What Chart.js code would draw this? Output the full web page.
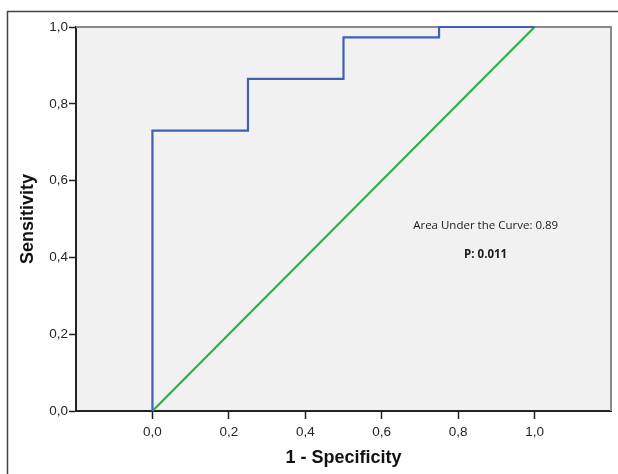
<!DOCTYPE html>
<html><head><meta charset="utf-8">
<script src="https://cdn.jsdelivr.net/npm/chart.js@4/dist/chart.umd.min.js"></script>
<style>html,body{margin:0;padding:0;background:#fff}#wrap{width:618px;height:474px;position:relative}</style>
</head><body><div id="wrap"><canvas id="c" width="618" height="474"></canvas></div>
<script>
const rocX = [0, 0, 0.25, 0.25, 0.5, 0.5, 0.75, 0.75, 1];
const rocY = [0, 0.73, 0.73, 0.865, 0.865, 0.973, 0.973, 1, 1];
const refX = [0, 1];
const refY = [0, 1];
const xTickValues = [0, 0.2, 0.4, 0.6, 0.8, 1.0];
const yTickValues = [0, 0.2, 0.4, 0.6, 0.8, 1.0];
const xTitle = '1 - Specificity';
const yTitle = 'Sensitivity';
const notes = ['Area Under the Curve: 0.89', 'P: 0.011'];

const fmt = v => Number(v).toFixed(1).replace('.', ',');

const decor = {
  id: 'decor',
  beforeDraw(chart) {
    const ctx = chart.ctx, a = chart.chartArea;
    ctx.save();
    ctx.fillStyle = '#fff';
    ctx.fillRect(0, 0, chart.width, chart.height);
    ctx.strokeStyle = '#444';
    ctx.lineWidth = 1.5;
    ctx.beginPath();
    ctx.moveTo(7.5, chart.height);
    ctx.lineTo(7.5, 11.5);
    ctx.lineTo(chart.width, 11.5);
    ctx.stroke();
    ctx.fillStyle = '#f1f1f1';
    ctx.fillRect(a.left, a.top, a.right - a.left, a.bottom - a.top);
    ctx.restore();
  },
  beforeDatasetsDraw(chart) {
    const ctx = chart.ctx, a = chart.chartArea;
    ctx.save();
    ctx.strokeStyle = '#8a8a8a';
    ctx.lineWidth = 2;
    ctx.beginPath();
    ctx.moveTo(a.left, a.top);
    ctx.lineTo(a.right, a.top);
    ctx.lineTo(a.right, a.bottom);
    ctx.stroke();
    ctx.restore();
  },
  afterDraw(chart) {
    const ctx = chart.ctx, xs = chart.scales.x, ys = chart.scales.y;
    ctx.save();
    ctx.fillStyle = '#1a1a1a';
    ctx.textAlign = 'center';
    ctx.textBaseline = 'middle';
    ctx.font = '11.5px "Open Sans"';
    ctx.fillText(notes[0], xs.getPixelForValue(0.872), ys.getPixelForValue(0.482));
    ctx.font = 'bold 11.5px "Open Sans"';
    ctx.fillText(notes[1], xs.getPixelForValue(0.872), ys.getPixelForValue(0.407));
    ctx.restore();
  }
};

new Chart(document.getElementById('c'), {
  type: 'scatter',
  data: {
    datasets: [
      {
        data: rocX.map((x, i) => ({x: x, y: rocY[i]})),
        showLine: true, borderColor: '#3f5fb8', borderWidth: 2.2,
        pointRadius: 0, tension: 0, clip: 5
      },
      {
        data: refX.map((x, i) => ({x: x, y: refY[i]})),
        showLine: true, borderColor: '#2eaf4a', borderWidth: 2.2,
        pointRadius: 0, tension: 0, clip: 5
      }
    ]
  },
  options: {
    responsive: false,
    devicePixelRatio: 1,
    animation: false,
    layout: {padding: {left: 0, top: 27, right: 7, bottom: 0}},
    plugins: {legend: {display: false}, tooltip: {enabled: false}},
    scales: {
      x: {
        type: 'linear', min: -0.2, max: 1.2,
        afterBuildTicks: s => { s.ticks = xTickValues.map(v => ({value: v})); },
        afterFit: s => { s.height = 63; },
        ticks: {callback: v => fmt(v), font: {family: '"Liberation Sans", Arial', size: 13.5}, color: '#262626', padding: 5, maxRotation: 0, autoSkip: false},
        grid: {drawOnChartArea: false, drawTicks: true, tickLength: 8, tickColor: '#222', tickWidth: 1.5},
        border: {color: '#222', width: 2},
        title: {display: true, text: xTitle, color: '#111', font: {family: '"Liberation Sans", Arial', size: 18, weight: 'bold'}, padding: {top: 0, bottom: 5}}
      },
      y: {
        type: 'linear', min: 0, max: 1,
        afterBuildTicks: s => { s.ticks = yTickValues.map(v => ({value: v})); },
        afterFit: s => { s.width = 76; },
        ticks: {callback: v => fmt(v), font: {family: '"Liberation Sans", Arial', size: 13.5}, color: '#262626', padding: 1, autoSkip: false},
        grid: {drawOnChartArea: false, drawTicks: true, tickLength: 7, tickColor: '#222', tickWidth: 1.5},
        border: {color: '#222', width: 2},
        title: {display: true, text: yTitle, color: '#111', font: {family: '"Liberation Sans", Arial', size: 18, weight: 'bold'}, padding: {top: 17, bottom: 0}}
      }
    }
  },
  plugins: [decor]
});
</script>
</body></html>
